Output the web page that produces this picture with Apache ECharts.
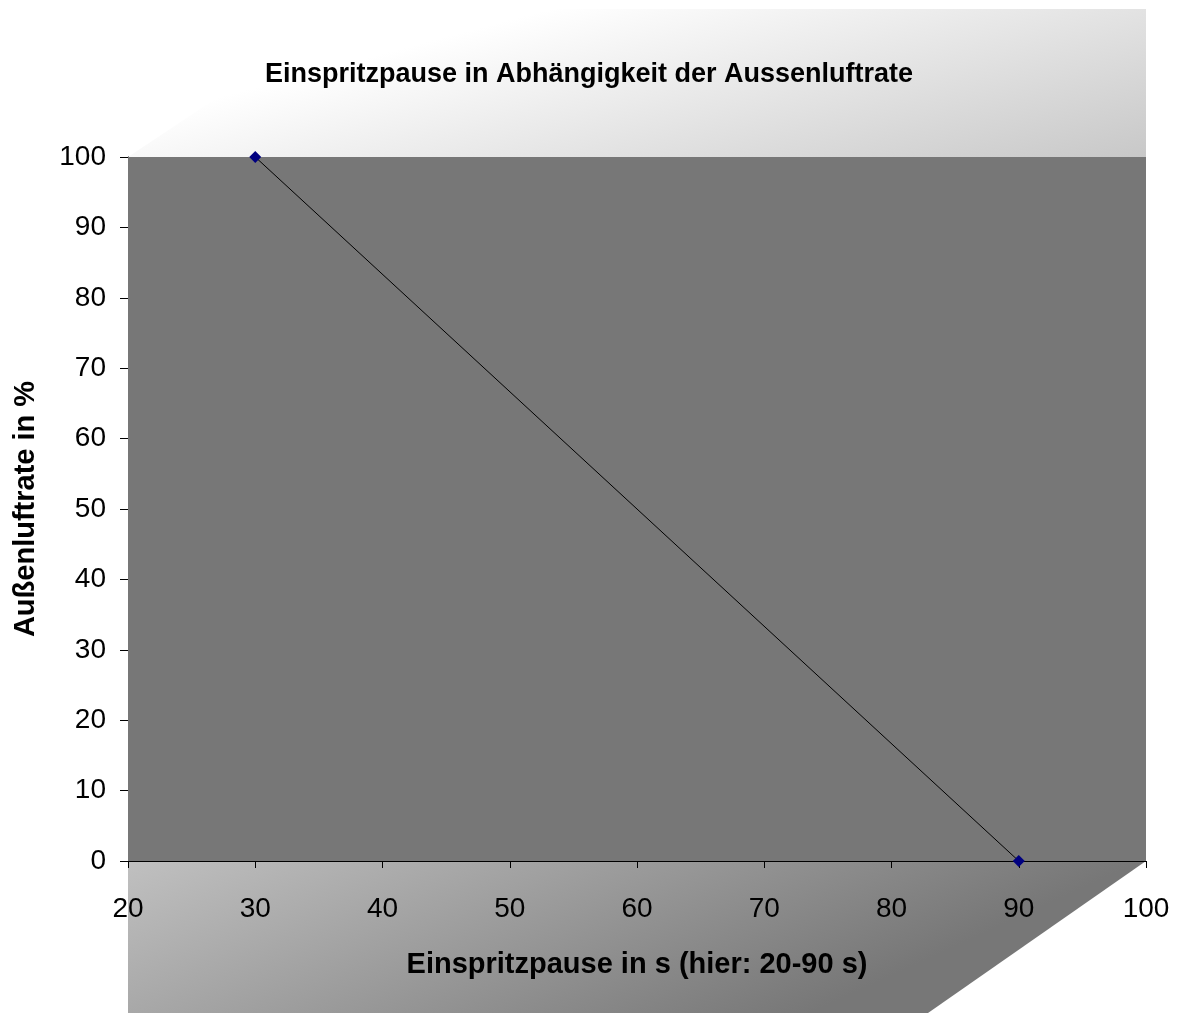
<!DOCTYPE html>
<html>
<head>
<meta charset="utf-8">
<script src="https://cdn.jsdelivr.net/npm/echarts@6/dist/echarts.min.js"></script>
<style>
html,body{margin:0;padding:0;background:#ffffff;}
#chart{width:1178px;height:1013px;}
</style>
</head>
<body>
<div id="chart"></div>
<script>
// Data
const pauseSeconds = [30, 90];      // Einspritzpause in s
const outsideAirRate = [100, 0];    // Außenluftrate in %
const xTicks = [20, 30, 40, 50, 60, 70, 80, 90, 100];
const yTicks = [0, 10, 20, 30, 40, 50, 60, 70, 80, 90, 100];

const titleText = 'Einspritzpause in Abhängigkeit der Aussenluftrate';
const xName = 'Einspritzpause in s (hier: 20-90 s)';
const yName = 'Außenluftrate in %';

const FONT = 'Liberation Sans, Arial, sans-serif';
const chart = echarts.init(document.getElementById('chart'), null, {renderer: 'canvas'});

const points = pauseSeconds.map((x, i) => [x, outsideAirRate[i]]);

const option = {
  animation: false,
  backgroundColor: '#ffffff',
  title: {
    text: titleText,
    left: 'center',
    top: 56,
    textStyle: {fontFamily: FONT, fontSize: 27, fontWeight: 'bold', color: '#000'}
  },
  grid: {
    left: 128, right: 32, top: 157, bottom: 152,
    show: true, backgroundColor: '#777777', borderWidth: 0, z: 2
  },
  xAxis: {
    type: 'value',
    min: xTicks[0], max: xTicks[xTicks.length - 1], interval: 10,
    name: xName, nameLocation: 'middle', nameGap: 89,
    nameTextStyle: {fontFamily: FONT, fontSize: 29, fontWeight: 'bold', color: '#000'},
    axisLine: {show: true, onZero: false, lineStyle: {color: '#000', width: 1}},
    axisTick: {show: true, inside: false, length: 7, lineStyle: {color: '#000'}},
    axisLabel: {fontFamily: FONT, fontSize: 28, color: '#000', margin: 34},
    splitLine: {show: false}
  },
  yAxis: {
    type: 'value',
    min: yTicks[0], max: yTicks[yTicks.length - 1], interval: 10,
    name: yName, nameLocation: 'middle', nameGap: 88, nameRotate: 90,
    nameTextStyle: {fontFamily: FONT, fontSize: 29, fontWeight: 'bold', color: '#000'},
    axisLine: {show: true, lineStyle: {color: '#000', width: 1}},
    axisTick: {show: true, inside: false, length: 8, lineStyle: {color: '#000'}},
    axisLabel: {fontFamily: FONT, fontSize: 28, color: '#000', margin: 22},
    splitLine: {show: false}
  },
  series: [{
    type: 'line',
    data: points,
    z: 5,
    symbol: 'diamond',
    symbolSize: 12,
    itemStyle: {color: '#000080'},
    lineStyle: {color: '#000000', width: 1},
    clip: false
  }]
};
chart.setOption(option);

// Background decoration (sheared gradient panel behind the plot area), positioned from the grid
const tl = chart.convertToPixel({gridIndex: 0}, [xTicks[0], yTicks[yTicks.length - 1]]);
const br = chart.convertToPixel({gridIndex: 0}, [xTicks[xTicks.length - 1], yTicks[0]]);
const L = tl[0], T = tl[1], R = br[0], B = br[1];
const H = 1013;
const topY = 9;
const cutDX = 218;

chart.setOption({
  graphic: [
    {
      type: 'polygon', z: -10, silent: true,
      shape: {points: [[L + cutDX + 4, topY], [R, topY], [R, T], [L, T]]},
      style: {
        fill: new echarts.graphic.LinearGradient(R - 76, T - 286, R, T,
          [{offset: 0, color: '#ffffff'}, {offset: 1, color: '#c8c8c8'}], true)
      }
    },
    {
      type: 'polygon', z: -10, silent: true,
      shape: {points: [[L, B], [R, B], [R - cutDX, H], [L, H]]},
      style: {
        fill: new echarts.graphic.LinearGradient(L, B, L + 176, B + 384,
          [{offset: 0, color: '#c0c0c0'}, {offset: 1, color: '#777777'}], true)
      }
    }
  ]
});
</script>
</body>
</html>
